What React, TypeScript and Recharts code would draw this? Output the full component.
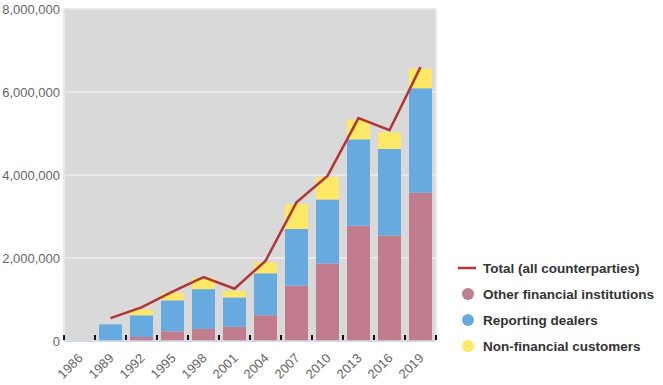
import {
  Bar,
  CartesianGrid,
  ComposedChart,
  Legend,
  Line,
  XAxis,
  YAxis,
} from "recharts";

const years = ["1986", "1989", "1992", "1995", "1998", "2001", "2004", "2007", "2010", "2013", "2016", "2019"];
const otherFinancial = [0, 0, 96000, 233000, 290000, 340000, 620000, 1330000, 1870000, 2780000, 2540000, 3570000];
const reportingDealers = [0, 400000, 524000, 747000, 960000, 710000, 1010000, 1370000, 1540000, 2080000, 2090000, 2520000];
const nonFinancial = [0, 0, 135000, 177000, 270000, 160000, 270000, 600000, 540000, 470000, 400000, 470000];
const totalAll = [null, 550000, 810000, 1190000, 1540000, 1260000, 1930000, 3340000, 3980000, 5370000, 5080000, 6600000];
const yTicks = [0, 2000000, 4000000, 6000000, 8000000];
const boundaryTicks = [0, 1, 2, 3, 4, 5, 6, 7, 8, 9, 10, 11, 12];

const RED = "#b03535";
const PINK = "#c17d8d";
const BLUE = "#66aae0";
const YELLOW = "#ffe866";
const FONT = "Liberation Sans, Arial, sans-serif";

const legendItems = [
  { name: "Total (all counterparties)", color: RED, kind: "line" },
  { name: "Other financial institutions", color: PINK, kind: "dot" },
  { name: "Reporting dealers", color: BLUE, kind: "dot" },
  { name: "Non-financial customers", color: YELLOW, kind: "dot" },
];

const data = years.map((year, i) => ({
  year,
  other: otherFinancial[i],
  reporting: reportingDealers[i],
  nonfin: nonFinancial[i],
  total: totalAll[i],
}));

const fmt = (v: number) => String(v).replace(/\B(?=(\d{3})+(?!\d))/g, ",");

// year label, plus the little black marks sitting on the category boundaries
function YearTick(props: any) {
  const { x, y, payload, index } = props;
  const half = payload.offset || 15.5;
  return (
    <g>
      <rect x={x - half - 1} y={y - 6} width={2} height={5} fill="#111" />
      {index === years.length - 1 && (
        <rect x={x + half - 1} y={y - 6} width={2} height={5} fill="#111" />
      )}
      <text
        transform={`translate(${x + 4},${y + 18}) rotate(-45)`}
        textAnchor="end"
        fill="#666"
        style={{ fontSize: "13px", fontFamily: FONT }}
      >
        {payload.value}
      </text>
    </g>
  );
}

function ValueTick(props: any) {
  const { x, y, payload } = props;
  return (
    <text
      x={x}
      y={y}
      dy={4.5}
      textAnchor="end"
      fill="#666"
      style={{ fontSize: "13px", fontFamily: FONT }}
    >
      {fmt(payload.value)}
    </text>
  );
}

function renderLegend() {
  return (
    <div style={{ fontFamily: FONT, fontSize: 13.5, fontWeight: "bold", color: "#333" }}>
      {legendItems.map((item) => (
        <div key={item.name} style={{ display: "flex", alignItems: "center", height: 26, whiteSpace: "nowrap" }}>
          <svg width={22} height={14}>
            {item.kind === "line" ? (
              <line x1={2} x2={20} y1={7} y2={7} stroke={item.color} strokeWidth={2.5} />
            ) : (
              <circle cx={12} cy={7} r={6} fill={item.color} />
            )}
          </svg>
          <span style={{ marginLeft: 5 }}>{item.name}</span>
        </div>
      ))}
    </div>
  );
}

export default function App() {
  return (
    <div style={{ position: "absolute", left: 0, top: 0, width: 663, height: 385, fontFamily: FONT }}>
      <ComposedChart
        width={663}
        height={385}
        data={data}
        margin={{ top: 9, right: 227, bottom: 0, left: 0 }}
        barCategoryGap={4}
      >
        <CartesianGrid xAxisId="grid" fill="#d9d9d9" stroke="#e8e8e8" strokeWidth={2} />
        <XAxis
          dataKey="year"
          height={44}
          interval={0}
          tickSize={0}
          tickMargin={0}
          tickLine={false}
          axisLine={{ stroke: "#ccd6eb", strokeWidth: 1.5 }}
          tick={<YearTick />}
        />
        <XAxis
          xAxisId="grid"
          type="number"
          domain={[0, 12]}
          ticks={boundaryTicks}
          allowDataOverflow
          mirror
          tick={false}
          tickLine={false}
          axisLine={false}
        />
        <YAxis
          width={64}
          domain={[0, 8000000]}
          ticks={yTicks}
          tickSize={0}
          tickMargin={4}
          axisLine={false}
          tickLine={false}
          tick={<ValueTick />}
        />
        <Bar dataKey="other" stackId="a" fill={PINK} isAnimationActive={false} />
        <Bar dataKey="reporting" stackId="a" fill={BLUE} isAnimationActive={false} />
        <Bar dataKey="nonfin" stackId="a" fill={YELLOW} isAnimationActive={false} />
        <Line
          dataKey="total"
          type="linear"
          stroke={RED}
          strokeWidth={2.5}
          dot={false}
          activeDot={false}
          isAnimationActive={false}
        />
        <Legend
          layout="vertical"
          align="center"
          verticalAlign="middle"
          wrapperStyle={{ left: 456, top: 255, width: 207 }}
          content={renderLegend}
        />
      </ComposedChart>
    </div>
  );
}
